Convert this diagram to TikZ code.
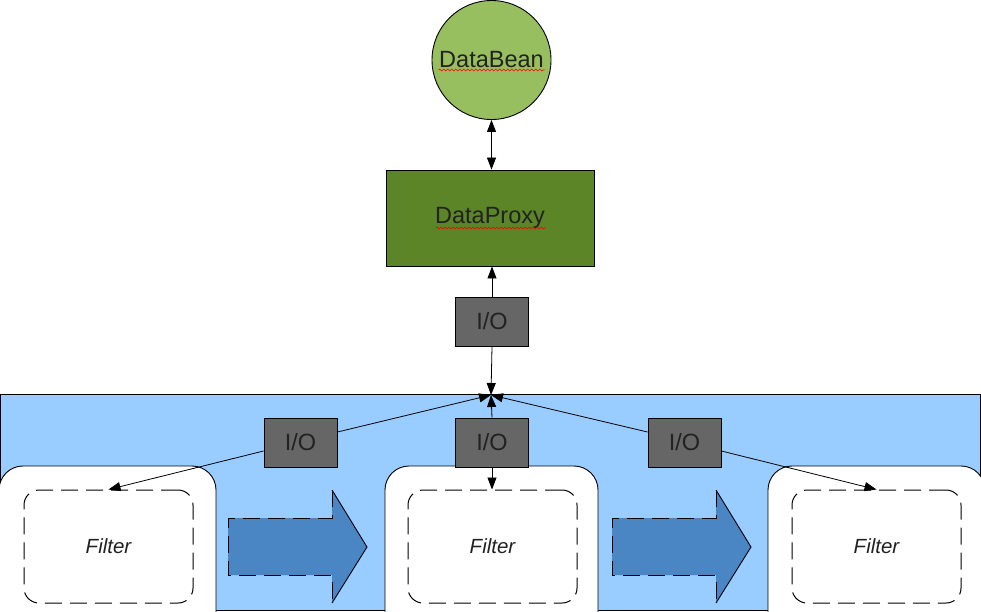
\documentclass[tikz,border=0pt]{standalone}
\usepackage{fontspec}
\setmainfont{Liberation Sans}
\usetikzlibrary{arrows.meta,decorations.pathmorphing,calc}
\definecolor{beanfill}{HTML}{97BE5F}
\definecolor{proxyfill}{HTML}{5B8526}
\definecolor{regionblue}{HTML}{99CCFF}
\definecolor{flowblue}{HTML}{4A86C4}
\definecolor{iofill}{HTML}{666666}
\definecolor{textdark}{HTML}{222222}
\tikzset{
  bigfont/.style={font=\fontsize{23.5}{28}\selectfont, text=textdark},
  iobox/.style={draw=black, fill=iofill, minimum width=73pt, minimum height=49pt, inner sep=0pt, bigfont},
  filterbox/.style={draw=black, line width=1pt, dash pattern=on 17pt off 8pt, rounded corners=15pt, minimum width=169pt, minimum height=113pt, inner sep=0pt, font=\fontsize{20.5}{24}\selectfont\itshape, text=textdark},
  holebox/.style={draw=black, fill=white, rounded corners=24pt},
  flowarrow/.style={fill=flowblue, draw=black, line width=1pt, dash pattern=on 17pt off 8pt},
  conn/.style={draw=black, line width=0.8pt},
  wavy/.style={draw=red, line width=0.6pt, decorate, decoration={snake, amplitude=0.9pt, segment length=4pt}}
}
\begin{document}
\begin{tikzpicture}[x=1pt, y=-1pt, line width=0.9pt, >={Triangle[length=12pt,width=9pt]}]
\useasboundingbox (0,0) rectangle (981,611);
% blue region
\fill[regionblue] (0,394) rectangle (980,610);
\draw (0,394) rectangle (980,610);
% white rounded holes
\draw[holebox] (-1,466) rectangle (216,640);
\draw[holebox] (385,466) rectangle (598,640);
\draw[holebox] (768,466) rectangle (985,640);
% flow arrows
\fill[flowblue] (228,518) -- (332,518) -- (332,490) -- (367,547) -- (332,603) -- (332,575) -- (228,575) -- cycle;
\draw[flowarrow, fill=none] (332,490) -- (332,518) -- (228,518) -- (228,575) -- (332,575) -- (332,603);
\draw[line width=0.9pt] (332,490) -- (367,547) -- (332,603);
\fill[flowblue] (612,518) -- (716,518) -- (716,490) -- (751,547) -- (716,603) -- (716,575) -- (612,575) -- cycle;
\draw[flowarrow, fill=none] (716,490) -- (716,518) -- (612,518) -- (612,575) -- (716,575) -- (716,603);
\draw[line width=0.9pt] (716,490) -- (751,547) -- (716,603);
% filters
\node[filterbox] (lfilter) at (108.5,546.5) {Filter};
\node[filterbox] (mfilter) at (492.5,546.5) {Filter};
\node[filterbox] (rfilter) at (876.5,546.5) {Filter};
% top nodes
\node[circle, draw=black, fill=beanfill, minimum size=119pt, inner sep=0pt, bigfont] (bean) at (491.5,60) {DataBean};
\node[draw=black, fill=proxyfill, minimum width=208pt, minimum height=96pt, inner sep=0pt, bigfont] (proxy) at (490,218) {DataProxy};
\draw[wavy] ([xshift=-53pt,yshift=-10pt]bean.center) -- ++(106,0);
\draw[wavy] ([xshift=-54pt,yshift=-10pt]proxy.center) -- ++(110,0);
% I/O boxes
\node[iobox] (topio) at (492,321.5) {I/O};
\node[iobox] (midio) at (492,442.5) {I/O};
\node[iobox] (leftio) at (300.5,442.5) {I/O};
\node[iobox] (rightio) at (684.5,442.5) {I/O};
\coordinate (hub) at (491,395);
% connectors
\draw[conn, <->] (bean.south) -- (proxy.north -| bean.south);
\draw[conn, ->] (topio.north) -- (proxy.south -| topio.north);
\draw[conn, ->] (topio.south) -- (hub);
\draw[conn, ->] (midio.north) -- (hub);
\draw[conn, ->] (midio.south) -- (mfilter.north -| midio.south);
\draw[conn, ->] ([yshift=10.5pt]leftio.east) -- (hub);
\draw[conn, ->] ([yshift=10.5pt]rightio.west) -- (hub);
\draw[conn, ->] ([yshift=-8.5pt]leftio.west) -- (lfilter.north);
\draw[conn, ->] ([yshift=-8.5pt]rightio.east) -- (rfilter.north);
\end{tikzpicture}
\end{document}
